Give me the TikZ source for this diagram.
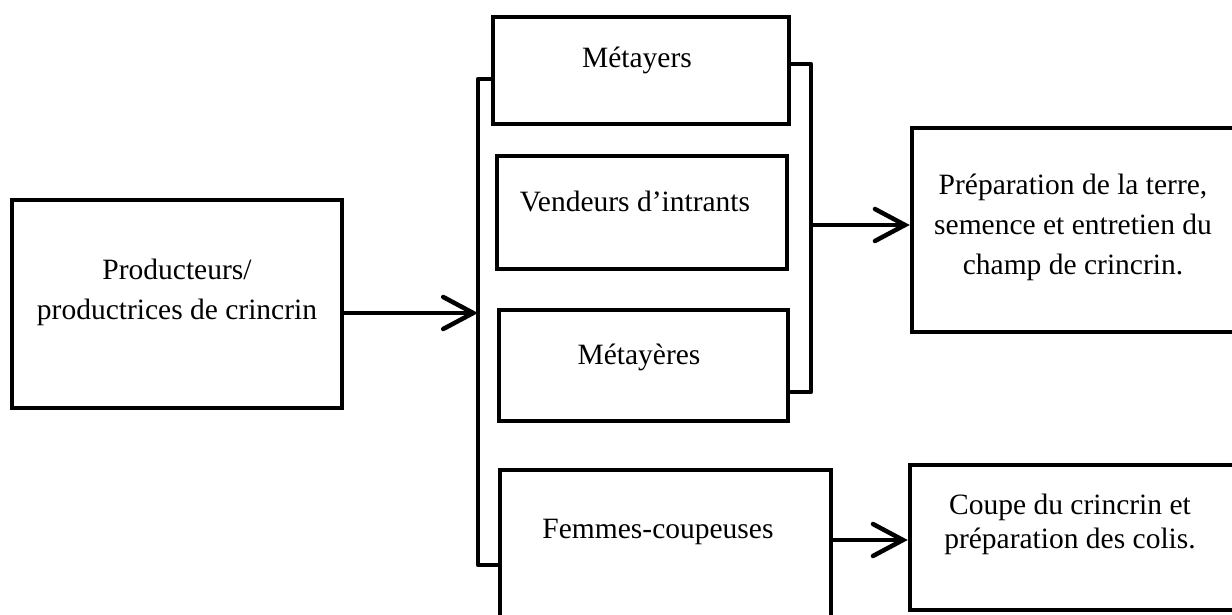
\documentclass[tikz,border=0pt]{standalone}
\usepackage{fontspec}
\setmainfont{Liberation Serif}
\usetikzlibrary{arrows.meta}
\begin{document}
\begin{tikzpicture}[x=1pt,y=-1pt,
  box/.style={draw=black, line width=4.5pt, fill=none, inner sep=0pt},
  lbl/.style={font=\fontsize{29.5}{40}\selectfont, align=center, inner sep=0pt},
  conn/.style={line width=4.5pt},
  arr/.style={conn, -{Straight Barb[length=30pt,width=32pt,line cap=round]}}]
\clip (0,0) rectangle (1232,614);
\fill[white] (0,0) rectangle (1232,614);
% boxes
\node[box, minimum width=330pt, minimum height=208pt] (prod) at (177,304) {};
\node[box, minimum width=296pt, minimum height=107pt] (met) at (641,70.5) {};
\node[box, minimum width=290pt, minimum height=113pt] (ven) at (642,212.5) {};
\node[box, minimum width=289pt, minimum height=111pt] (mre) at (643.5,365.5) {};
\node[box, minimum width=331pt, minimum height=200pt] (fem) at (665.5,570) {};
\node[box, minimum width=350pt, minimum height=204pt] (prep) at (1087,230) {};
\node[box, minimum width=350pt, minimum height=145pt] (coupe) at (1085,537.5) {};
% labels
\node[lbl] (tprod) at (177,292) {Producteurs/\\productrices de crincrin};
\node[lbl] (tmet) at (637,60) {Métayers};
\node[lbl] (tven) at (635,201) {Vendeurs d’intrants};
\node[lbl] (tmre) at (639,357) {Métayères};
\node[lbl] (tfem) at (658,532) {Femmes-coupeuses};
\node[lbl] (tprep) at (1073,227) {Préparation de la terre,\\semence et entretien du\\champ de crincrin.};
\node[lbl, font=\fontsize{29.5}{34}\selectfont] (tcoupe) at (1070,524) {Coupe du crincrin et\\préparation des colis.};
% bracket coordinates
\coordinate (lbt) at (478,79);
\coordinate (lbb) at (478,565);
\coordinate (lbm) at (478,313);
\coordinate (rbt) at (811,64);
\coordinate (rbb) at (811,392);
\coordinate (rbm) at (811,225);
\coordinate (fa) at (831,540);
% connectors
\draw[conn, line join=round] (met.west |- lbt) -- (lbt) -- (lbb) -- (fem.west |- lbb);
\draw[conn, line join=round] (met.east |- rbt) -- (rbt) -- (rbb) -- (mre.east |- rbb);
\draw[arr] (prod.east |- lbm) -- (lbm);
\draw[arr] (rbm) -- (prep.west |- rbm);
\draw[arr] (fem.east |- fa) -- (coupe.west |- fa);
\end{tikzpicture}
\end{document}
